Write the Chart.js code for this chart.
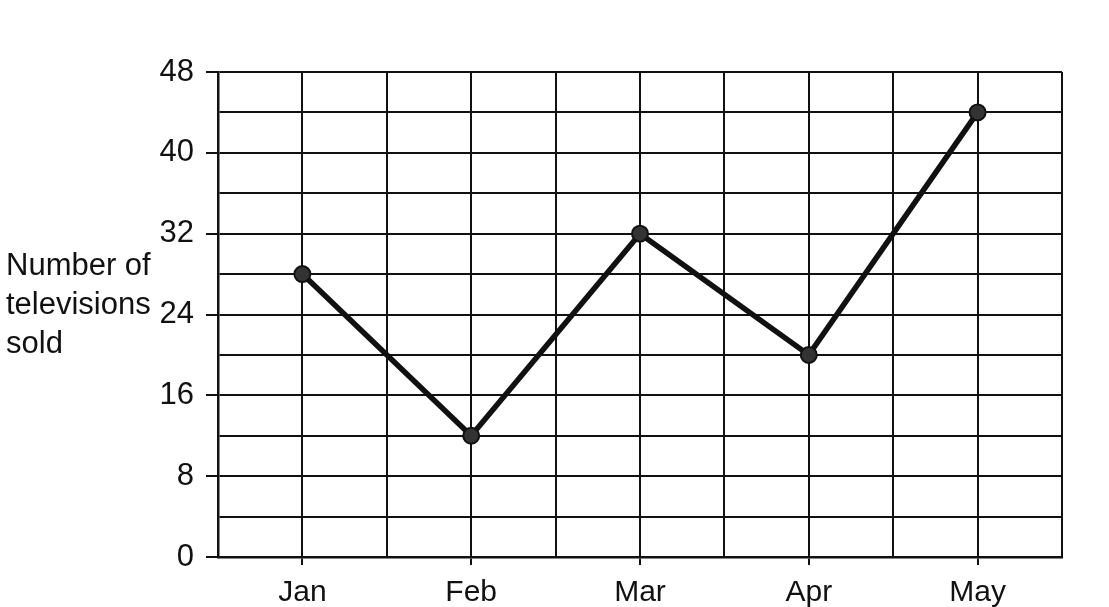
<!DOCTYPE html>
<html>
<head>
<meta charset="utf-8">
<script src="https://cdn.jsdelivr.net/npm/chart.js@4"></script>
<style>
  body { margin: 0; background: #fff; }
  #wrap { position: relative; width: 1109px; height: 607px; }
</style>
</head>
<body>
<div id="wrap"><canvas id="tvChart"></canvas></div>
<script>
// Televisions sold per month
const months = ["Jan", "Feb", "Mar", "Apr", "May"];
const sold = [28, 12, 32, 20, 44];
const yLabels = [0, 8, 16, 24, 32, 40, 48];
const yTitle = ["Number of", "televisions", "sold"];

// months sit on every other vertical grid line (x = 1, 3, 5, 7, 9)
const points = months.map((m, i) => ({ x: i * 2 + 1, y: sold[i] }));

const FONT = "'Liberation Sans', Arial, sans-serif";

// horizontal y-axis title on the left, drawn as text
const yTitlePlugin = {
  id: "yTitle",
  afterDraw(chart) {
    const ctx = chart.ctx;
    ctx.save();
    ctx.fillStyle = "#111";
    ctx.font = "31px " + FONT;
    ctx.textBaseline = "middle";
    ctx.textAlign = "left";
    yTitle.forEach((line, i) => ctx.fillText(line, 6, 266 + i * 39));
    ctx.restore();
  }
};

new Chart(document.getElementById("tvChart"), {
  type: "line",
  data: {
    datasets: [{
      data: points,
      borderColor: "#111",
      borderWidth: 5.5,
      pointRadius: 8,
      pointBackgroundColor: "#333",
      pointBorderColor: "#111",
      pointBorderWidth: 2,
      tension: 0
    }]
  },
  options: {
    responsive: true,
    maintainAspectRatio: false,
    animation: false,
    layout: { padding: { top: 72, right: 47, left: 0, bottom: 0 } },
    plugins: {
      legend: { display: false },
      tooltip: { enabled: false }
    },
    scales: {
      x: {
        type: "linear",
        min: 0,
        max: 10,
        afterFit: (s) => { s.height = 50; },
        border: { color: "#111", width: 2.5 },
        grid: {
          color: "#111",
          lineWidth: 2,
          tickLength: 8,
          tickColor: (c) => (c.tick && c.tick.value % 2 === 1 ? "#111" : "rgba(0,0,0,0)")
        },
        ticks: {
          stepSize: 1,
          autoSkip: false,
          maxRotation: 0,
          padding: 10,
          color: "#111",
          font: { size: 30, family: FONT },
          callback: (v) => (v % 2 === 1 ? months[(v - 1) / 2] : "")
        }
      },
      y: {
        min: 0,
        max: 48,
        afterFit: (s) => { s.width = 218; },
        border: { color: "#111", width: 2.5 },
        grid: {
          color: "#111",
          lineWidth: 2,
          tickLength: 12,
          tickColor: (c) => (c.tick && yLabels.includes(c.tick.value) ? "#111" : "rgba(0,0,0,0)")
        },
        ticks: {
          stepSize: 4,
          autoSkip: false,
          padding: 12,
          color: "#111",
          font: { size: 31, family: FONT },
          callback: (v) => (yLabels.includes(v) ? String(v) : "")
        }
      }
    }
  },
  plugins: [yTitlePlugin]
});
</script>
</body>
</html>
